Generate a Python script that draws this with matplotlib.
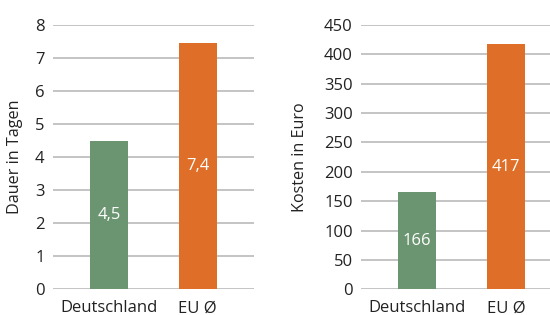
import matplotlib
matplotlib.use("Agg")
import matplotlib.pyplot as plt

categories = ["Deutschland", "EU Ø"]
dauer_values = [4.5, 7.45]
dauer_labels = ["4,5", "7,4"]
kosten_values = [166, 417]
kosten_labels = ["166", "417"]
dauer_ticks = [0, 1, 2, 3, 4, 5, 6, 7, 8]
kosten_ticks = [0, 50, 100, 150, 200, 250, 300, 350, 400, 450]

colors = ["#6b9470", "#df6f28"]
plt.rcParams['font.family'] = ['Open Sans', 'DejaVu Sans']

W, H = 550, 315
fig = plt.figure(figsize=(5.5, 3.15), dpi=100)

def px_axes(x0, x1, y_top, y_bot):
    return fig.add_axes([x0 / W, 1 - y_bot / H, (x1 - x0) / W, (y_bot - y_top) / H])

ax1 = px_axes(53, 254, 25, 289.3)
ax2 = px_axes(361, 550, 25, 289.3)

def style(ax, vals, labels, ticks, ylabel, xlim):
    x = list(range(len(categories)))
    ax.bar(x, vals, width=0.43, color=colors, zorder=3)
    for xi, v, lab in zip(x, vals, labels):
        ax.text(xi, v / 2, lab, ha="center", va="center", color="white",
                fontsize=12, zorder=4)
    ax.set_ylim(ticks[0], ticks[-1])
    ax.set_yticks(ticks)
    ax.set_xlim(*xlim)
    ax.set_xticks(x)
    ax.set_xticklabels(categories)
    ax.grid(axis="y", color="#c4c4c4", linewidth=1.4, zorder=0)
    for s in ax.spines.values():
        s.set_visible(False)
    ax.tick_params(axis="both", length=0, labelsize=12, colors="#222222")
    ax.tick_params(axis="y", pad=6)
    ax.tick_params(axis="x", pad=8)
    ax.set_ylabel(ylabel, fontsize=11.6, color="#222222")

style(ax1, dauer_values, dauer_labels, dauer_ticks, "Dauer in Tagen", (-0.64, 1.64))
style(ax2, kosten_values, kosten_labels, kosten_ticks, "Kosten in Euro", (-0.63, 1.49))
ax1.yaxis.set_label_coords(-30 / 201, 0.5)
ax2.yaxis.set_label_coords(-53 / 189, 0.5)

fig.savefig("out.png", dpi=100)
